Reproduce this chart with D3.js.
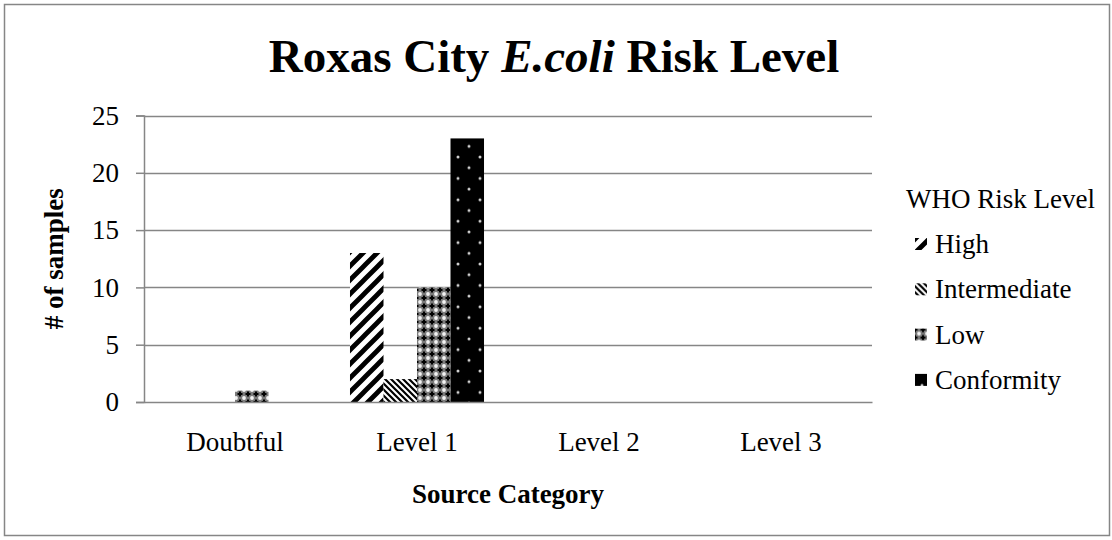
<!DOCTYPE html>
<html>
<head>
<meta charset="utf-8">
<script src="https://cdn.jsdelivr.net/npm/d3@7/dist/d3.min.js"></script>
<style>
  html, body { margin: 0; padding: 0; background: #fff; }
  svg { display: block; }
  text { font-family: "Liberation Serif", "Times New Roman", serif; fill: #000; }
</style>
</head>
<body>
<svg id="chart" width="1112" height="540"></svg>
<script>
// Source categories along the x axis
const categories = ["Doubtful", "Level 1", "Level 2", "Level 3"];
// WHO risk level series (legend order)
const seriesNames = ["High", "Intermediate", "Low", "Conformity"];
// Number of samples per category for each risk level
const highValues = [0, 13, 0, 0];
const intermediateValues = [0, 2, 0, 0];
const lowValues = [1, 10, 0, 0];
const conformityValues = [0, 23, 0, 0];
// Y axis tick values
const yTicks = [0, 5, 10, 15, 20, 25];

const seriesValues = [highValues, intermediateValues, lowValues, conformityValues];
const patternIds = ["pat-high", "pat-intermediate", "pat-low", "pat-conformity"];

const svg = d3.select("#chart");
const W = 1112, H = 540;
const plot = { left: 144, right: 872, top: 115.5, bottom: 402 };
const grey = "#868686";

// Outer chart frame
svg.append("rect")
  .attr("x", 4.5).attr("y", 4.5)
  .attr("width", W - 7).attr("height", H - 9)
  .attr("fill", "#fff").attr("stroke", grey).attr("stroke-width", 1.5);

// Fill patterns
const defs = svg.append("defs");

// wide upward diagonal stripes
const pHigh = defs.append("pattern").attr("id", "pat-high")
  .attr("patternUnits", "userSpaceOnUse").attr("width", 14).attr("height", 14)
  .attr("x", 350).attr("y", 0);
pHigh.append("rect").attr("width", 14).attr("height", 14).attr("fill", "#fff");
pHigh.append("path")
  .attr("d", "M-7,7 L7,-7 M0,14 L14,0 M7,21 L21,7")
  .attr("stroke", "#000").attr("stroke-width", 4.8);

// narrow downward diagonal stripes
const pInt = defs.append("pattern").attr("id", "pat-intermediate")
  .attr("patternUnits", "userSpaceOnUse").attr("width", 6).attr("height", 6);
pInt.append("rect").attr("width", 6).attr("height", 6).attr("fill", "#fff");
pInt.append("path")
  .attr("d", "M-3,3 L3,9 M0,0 L6,6 M3,-3 L9,3")
  .attr("stroke", "#000").attr("stroke-width", 2.2);

// grey grid with crosses and light dots
const pLow = defs.append("pattern").attr("id", "pat-low")
  .attr("patternUnits", "userSpaceOnUse").attr("width", 8).attr("height", 8)
  .attr("x", 416).attr("y", 2);
pLow.append("rect").attr("width", 8).attr("height", 8).attr("fill", "#7a7a7a");
pLow.append("path")
  .attr("d", "M0,-2.5 L0,2.5 M-2.5,0 L2.5,0 M8,-2.5 L8,2.5 M5.5,0 L10.5,0 M0,5.5 L0,10.5 M-2.5,8 L2.5,8 M8,5.5 L8,10.5 M5.5,8 L10.5,8")
  .attr("stroke", "#000").attr("stroke-width", 2);
pLow.append("circle").attr("cx", 4).attr("cy", 4).attr("r", 1.9).attr("fill", "#f2f2f2");

// black with small light dots
const pConf = defs.append("pattern").attr("id", "pat-conformity")
  .attr("patternUnits", "userSpaceOnUse").attr("width", 22).attr("height", 21.4)
  .attr("x", 458).attr("y", 157);
pConf.append("rect").attr("width", 22).attr("height", 21.4).attr("fill", "#000");
[[0, 0], [22, 0], [0, 21.4], [22, 21.4], [11, 10.7]].forEach(([cx, cy]) => {
  pConf.append("circle").attr("cx", cx).attr("cy", cy).attr("r", 1.5).attr("fill", "#d0d0d0");
});

// Scales
const x0 = d3.scaleBand().domain(categories).range([plot.left, plot.right])
  .paddingInner(0).paddingOuter(0);
const x1 = d3.scaleBand().domain(seriesNames).range([0, x0.bandwidth()])
  .paddingInner(0).paddingOuter(0.716);
const y = d3.scaleLinear().domain([0, 25]).range([plot.bottom, plot.top]);

// Horizontal gridlines
svg.append("g").selectAll("line")
  .data(yTicks.filter(d => d > 0))
  .join("line")
  .attr("x1", plot.left).attr("x2", plot.right)
  .attr("y1", d => Math.round(y(d)) + 0.5).attr("y2", d => Math.round(y(d)) + 0.5)
  .attr("stroke", grey).attr("stroke-width", 1.5);

// Bars
const barGroup = svg.append("g");
seriesNames.forEach((name, si) => {
  barGroup.append("g").selectAll("rect")
    .data(categories.map((c, ci) => ({ c, v: seriesValues[si][ci] })).filter(d => d.v > 0))
    .join("rect")
    .attr("x", d => x0(d.c) + x1(name))
    .attr("width", x1.bandwidth())
    .attr("y", d => y(d.v))
    .attr("height", d => y(0) - y(d.v))
    .attr("fill", `url(#${patternIds[si]})`);
});

// Y axis
const yAxis = svg.append("g")
  .attr("transform", `translate(${plot.left},0)`)
  .call(d3.axisLeft(y).tickValues(yTicks).tickSize(8).tickPadding(17).tickFormat(d3.format("d")));
yAxis.select(".domain").attr("stroke", grey).attr("stroke-width", 1.5);
yAxis.selectAll(".tick line").attr("stroke", grey).attr("stroke-width", 1.5);
yAxis.selectAll(".tick text")
  .style("font-family", "'Liberation Serif', serif").style("font-size", "27px").attr("fill", "#000");

// X axis
const xAxis = svg.append("g")
  .attr("transform", `translate(0,${plot.bottom})`)
  .call(d3.axisBottom(x0).tickSize(0).tickPadding(30));
xAxis.select(".domain").attr("stroke", grey).attr("stroke-width", 1.5);
xAxis.selectAll(".tick text")
  .style("font-family", "'Liberation Serif', serif").style("font-size", "27px").attr("fill", "#000");

// Title
const title = svg.append("text")
  .attr("x", 554).attr("y", 72)
  .attr("text-anchor", "middle")
  .style("font-size", "47px").style("font-weight", "bold");
title.append("tspan").text("Roxas City ");
title.append("tspan").style("font-style", "italic").text("E.coli");
title.append("tspan").text(" Risk Level");

// Axis titles
svg.append("text")
  .attr("x", (plot.left + plot.right) / 2).attr("y", 503)
  .attr("text-anchor", "middle")
  .style("font-size", "27px").style("font-weight", "bold")
  .text("Source Category");

svg.append("text")
  .attr("transform", `translate(63,${(plot.top + plot.bottom) / 2}) rotate(-90)`)
  .attr("text-anchor", "middle")
  .style("font-size", "27px").style("font-weight", "bold")
  .text("# of samples");

// Legend
const legend = svg.append("g");
legend.append("text")
  .attr("x", 906).attr("y", 208)
  .style("font-size", "27px")
  .text("WHO Risk Level");
const items = legend.selectAll("g.item")
  .data(seriesNames)
  .join("g").attr("class", "item")
  .attr("transform", (d, i) => `translate(915,${253 + i * 45.3})`);
items.append("rect")
  .attr("x", 0).attr("y", -15).attr("width", 12).attr("height", 12)
  .attr("fill", (d, i) => `url(#${patternIds[i]})`);
items.append("text")
  .attr("x", 20).attr("y", 0)
  .style("font-size", "27px")
  .text(d => d);
</script>
</body>
</html>
